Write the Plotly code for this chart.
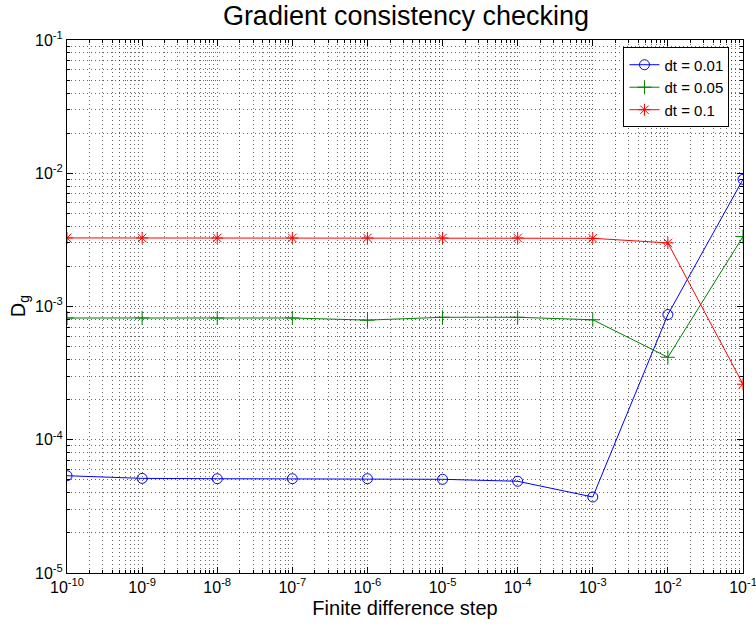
import plotly.graph_objects as go

steps = [1e-10, 1e-9, 1e-8, 1e-7, 1e-6, 1e-5, 1e-4, 1e-3, 1e-2, 1e-1]
dg_001 = [5.37e-5, 5.13e-5, 5.1e-5, 5.1e-5, 5.1e-5, 5.05e-5, 4.88e-5, 3.72e-5, 8.7e-4, 9.0e-3]
dg_005 = [8.2e-4, 8.2e-4, 8.2e-4, 8.2e-4, 7.9e-4, 8.3e-4, 8.3e-4, 7.95e-4, 4.16e-4, 3.35e-3]
dg_01 = [3.27e-3, 3.27e-3, 3.27e-3, 3.27e-3, 3.27e-3, 3.27e-3, 3.27e-3, 3.25e-3, 3.0e-3, 2.61e-4]

x_tickvals = [1e-10, 1e-9, 1e-8, 1e-7, 1e-6, 1e-5, 1e-4, 1e-3, 1e-2, 1e-1]
x_ticktext = ["10<sup>-10</sup>", "10<sup>-9</sup>", "10<sup>-8</sup>", "10<sup>-7</sup>", "10<sup>-6</sup>",
              "10<sup>-5</sup>", "10<sup>-4</sup>", "10<sup>-3</sup>", "10<sup>-2</sup>", "10<sup>-1</sup>"]
y_tickvals = [1e-5, 1e-4, 1e-3, 1e-2, 1e-1]
y_ticktext = ["10<sup>-5</sup>", "10<sup>-4</sup>", "10<sup>-3</sup>", "10<sup>-2</sup>", "10<sup>-1</sup>"]


def minor_vals(decades):
    return [m * d for d in decades[:-1] for m in range(2, 10)]


x_minor = minor_vals(x_tickvals)
y_minor = minor_vals(y_tickvals)

FONT = "Liberation Sans, Arial, sans-serif"

fig = go.Figure()
fig.add_trace(go.Scatter(x=steps, y=dg_001, mode="lines+markers", name="dt = 0.01",
                         line=dict(color="#0000ff", width=1),
                         marker=dict(symbol="circle-open", size=10, color="#0000ff", line=dict(width=1))))
fig.add_trace(go.Scatter(x=steps, y=dg_005, mode="lines+markers", name="dt = 0.05",
                         line=dict(color="#008000", width=1),
                         marker=dict(symbol="cross-thin-open", size=10, color="#008000", line=dict(width=1, color="#008000"))))
fig.add_trace(go.Scatter(x=steps, y=dg_01, mode="lines+markers", name="dt = 0.1",
                         line=dict(color="#ff0000", width=1),
                         marker=dict(symbol="asterisk-open", size=10, color="#ff0000", line=dict(width=1, color="#ff0000"))))

grid_col = "rgba(0,0,0,0.6)"
grid_dash = "1px,3px"


def axis_style(minor):
    return dict(
        type="log", showline=True, linecolor="black", linewidth=1, mirror="ticks",
        ticks="inside", ticklen=6, tickcolor="black", ticklabeloverflow="allow",
        showgrid=True, gridcolor=grid_col, griddash=grid_dash, gridwidth=1,
        zeroline=False, tickfont=dict(family=FONT, size=16, color="black"),
        minor=dict(tickvals=minor, ticks="inside", ticklen=3, tickcolor="black", showgrid=True,
                   gridcolor=grid_col, griddash=grid_dash, gridwidth=1),
    )


fig.update_layout(
    width=756, height=628,
    margin=dict(l=67, r=13, t=40, b=55, autoexpand=False),
    paper_bgcolor="white", plot_bgcolor="white",
    font=dict(family=FONT, color="black"),
    title=dict(text="Gradient consistency checking", x=0.537, xanchor="center", y=0.976, yanchor="middle",
               font=dict(family=FONT, size=27, color="black")),
    xaxis=dict(axis_style(x_minor), range=[-10, -1], tickvals=x_tickvals, ticktext=x_ticktext,
               title=dict(text="Finite difference step", font=dict(family=FONT, size=20), standoff=5)),
    yaxis=dict(axis_style(y_minor), range=[-5, -1], tickvals=y_tickvals, ticktext=y_ticktext),
    legend=dict(x=0.98, y=0.986, xanchor="right", yanchor="top",
                bgcolor="white", bordercolor="black", borderwidth=1,
                font=dict(family=FONT, size=15, color="black"),
                tracegroupgap=0, itemwidth=30),
    showlegend=True,
    annotations=[dict(text="D<sub>g</sub>", textangle=-90, xref="paper", yref="paper",
                      x=-0.07, y=0.5, xanchor="center", yanchor="middle", showarrow=False,
                      font=dict(family=FONT, size=20, color="black"))],
)

fig.write_html("out.html", config={"displayModeBar": False},
               post_script="document.body.style.margin='0';")
